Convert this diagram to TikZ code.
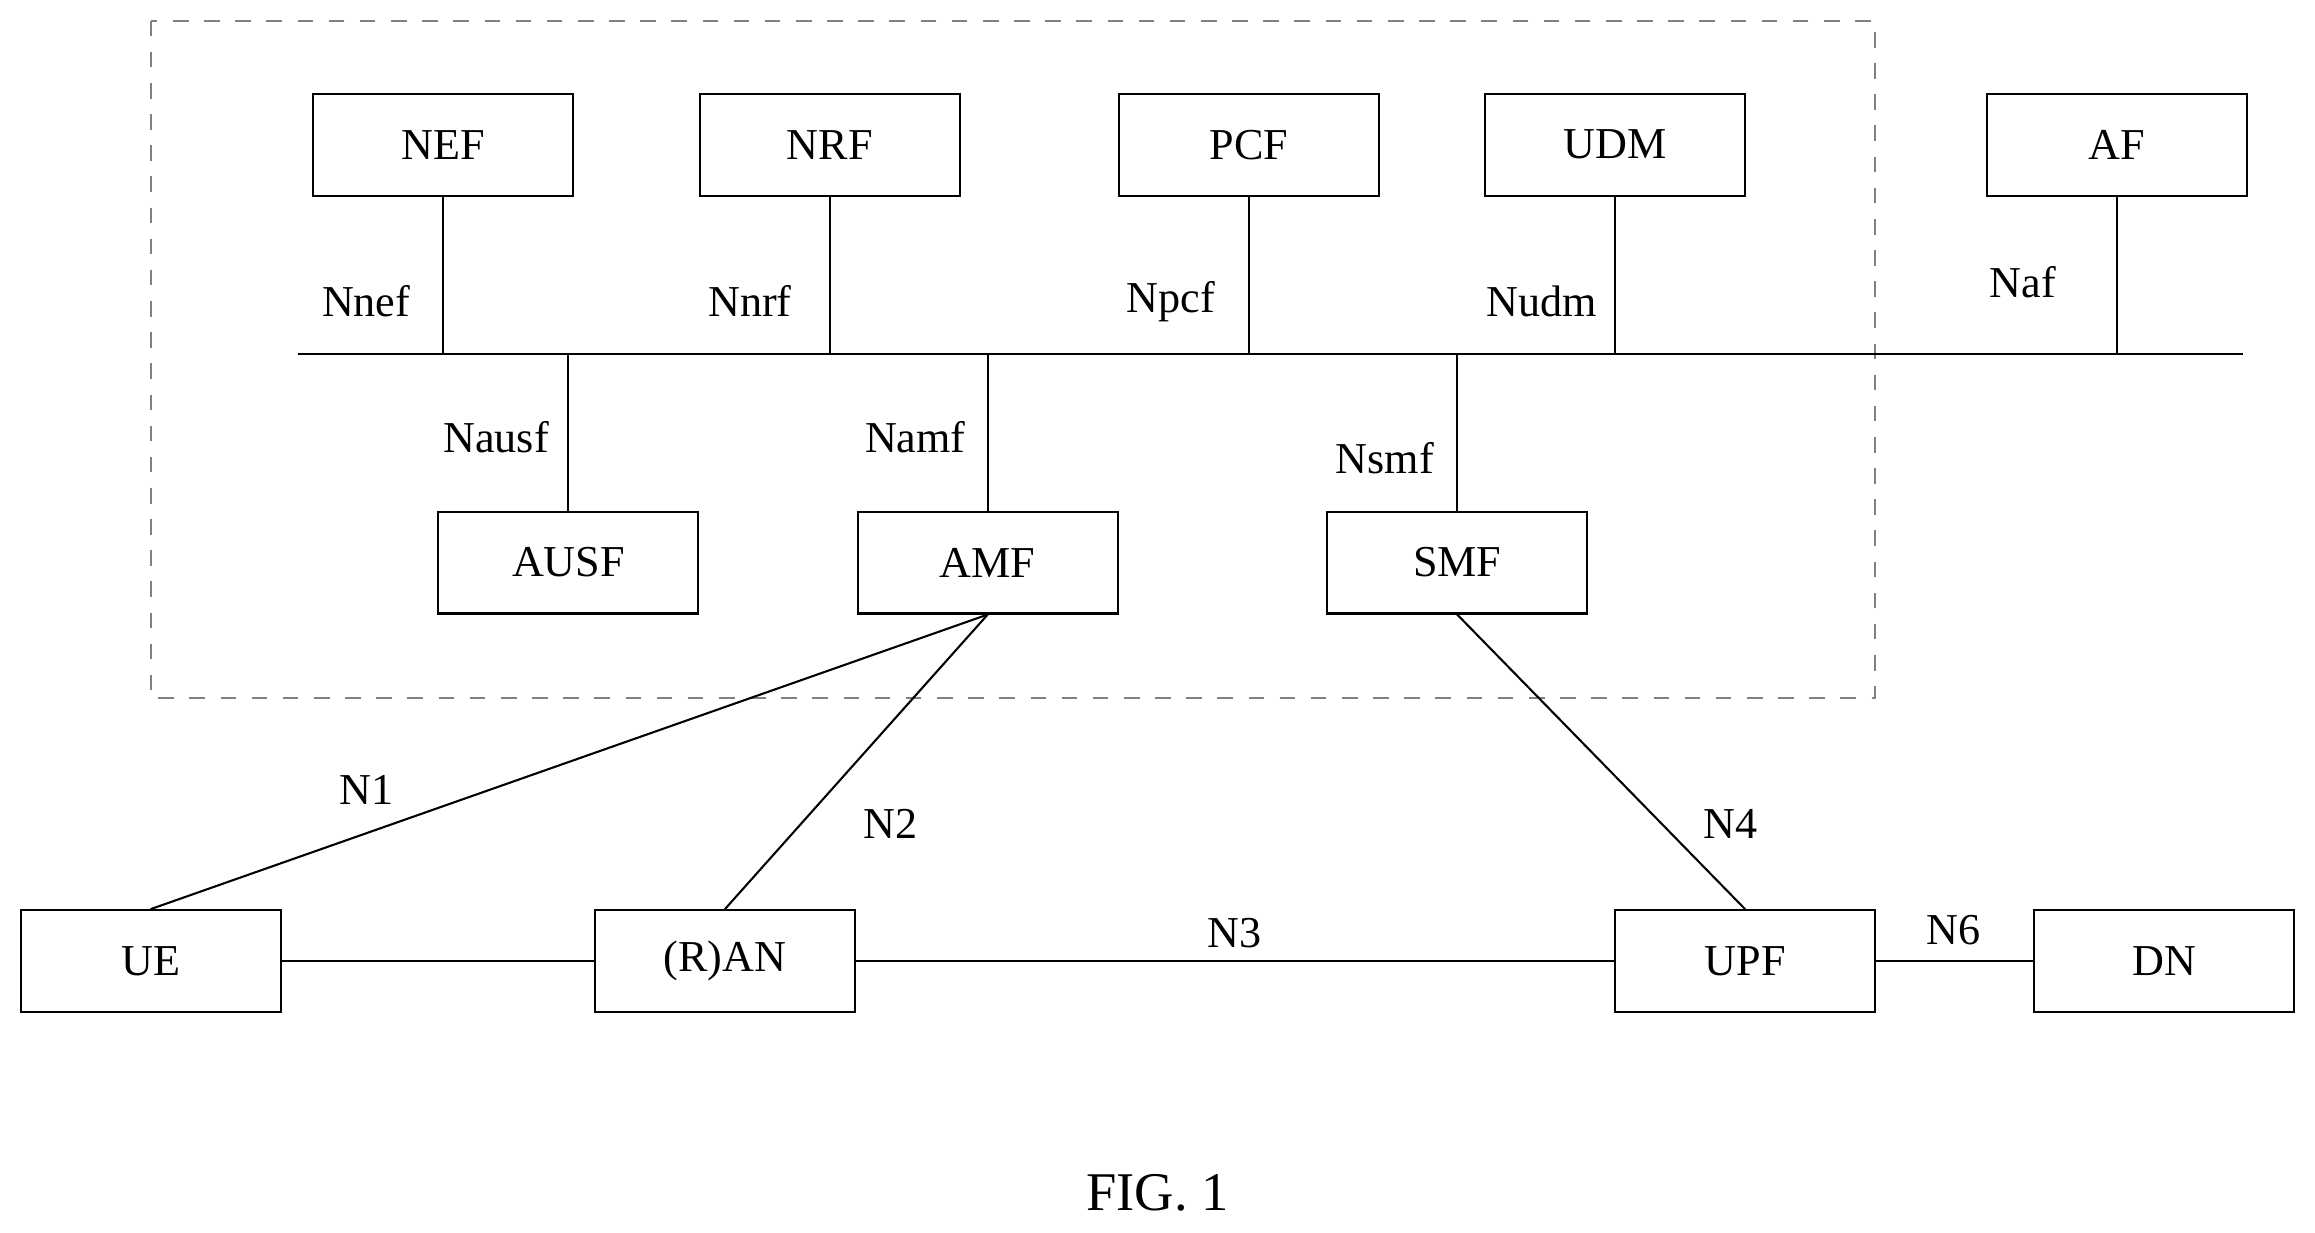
\documentclass[tikz,border=0pt]{standalone}
\usepackage{fontspec}
\setmainfont{Liberation Serif}
\usetikzlibrary{positioning}
\begin{document}
\begin{tikzpicture}[x=0.01cm,y=-0.01cm,font=\fontsize{8.5}{10}\selectfont,
    nf/.style={rectangle,draw,minimum width=1.76cm,minimum height=0.69cm,inner sep=0pt},
    lbl/.style={inner sep=0pt}]
    \useasboundingbox (0,0) rectangle (1568,835);
    % Dashed core boundary
    \draw[dashed,gray] (102,14) rectangle (1270,473);

    % Network functions
    \node[nf] (nef) at (300,98) {NEF};
    \node[nf] (nrf) at (562,98) {NRF};
    \node[nf] (pcf) at (846,98) {PCF};
    \node[nf] (udm) at (1094,98) {UDM};
    \node[nf] (af) at (1434,98) {AF};
    \node[nf] (ausf) at (385,381) {AUSF};
    \node[nf] (amf) at (669,381) {AMF};
    \node[nf] (smf) at (987,381) {SMF};

    % Service bus
    \coordinate (busL) at (202,240);
    \coordinate (busR) at (1519,240);
    \draw (busL) -- (busR);
    \foreach \n in {nef,nrf,pcf,udm,af}
        \draw (\n.south) -- (\n.south |- busL);
    \foreach \n in {ausf,amf,smf}
        \draw (\n.north) -- (\n.north |- busL);

    % Service interface labels
    \node[lbl] (lnef) at (248,204) {Nnef};
    \node[lbl] (lnrf) at (508,204) {Nnrf};
    \node[lbl] (lpcf) at (793,204) {Npcf};
    \node[lbl] (ludm) at (1044,204) {Nudm};
    \node[lbl] (laf) at (1370,191) {Naf};
    \node[lbl] (lausf) at (336,296) {Nausf};
    \node[lbl] (lamf) at (620,296) {Namf};
    \node[lbl] (lsmf) at (938,310) {Nsmf};

    % User plane
    \node[nf] (ue) at (102,651) {UE};
    \node[nf] (ran) at (491,651) {(R)AN};
    \node[nf] (upf) at (1182,651) {UPF};
    \node[nf] (dn) at (1466,651) {DN};

    \draw (amf.south) -- (ue.north);
    \draw (amf.south) -- (ran.north);
    \draw (smf.south) -- (upf.north);
    \draw (ue) -- (ran);
    \draw (ran) -- (upf);
    \draw (upf) -- (dn);

    % Reference point labels
    \node[lbl] (ln1) at (248,535) {N1};
    \node[lbl] (ln2) at (603,558) {N2};
    \node[lbl] (ln4) at (1172,558) {N4};
    \node[lbl] (ln3) at (836,632) {N3};
    \node[lbl] (ln6) at (1323,630) {N6};

    \node[lbl,font=\fontsize{10.5}{12}\selectfont] (fig) at (784,808) {FIG. 1};
\end{tikzpicture}
\end{document}
